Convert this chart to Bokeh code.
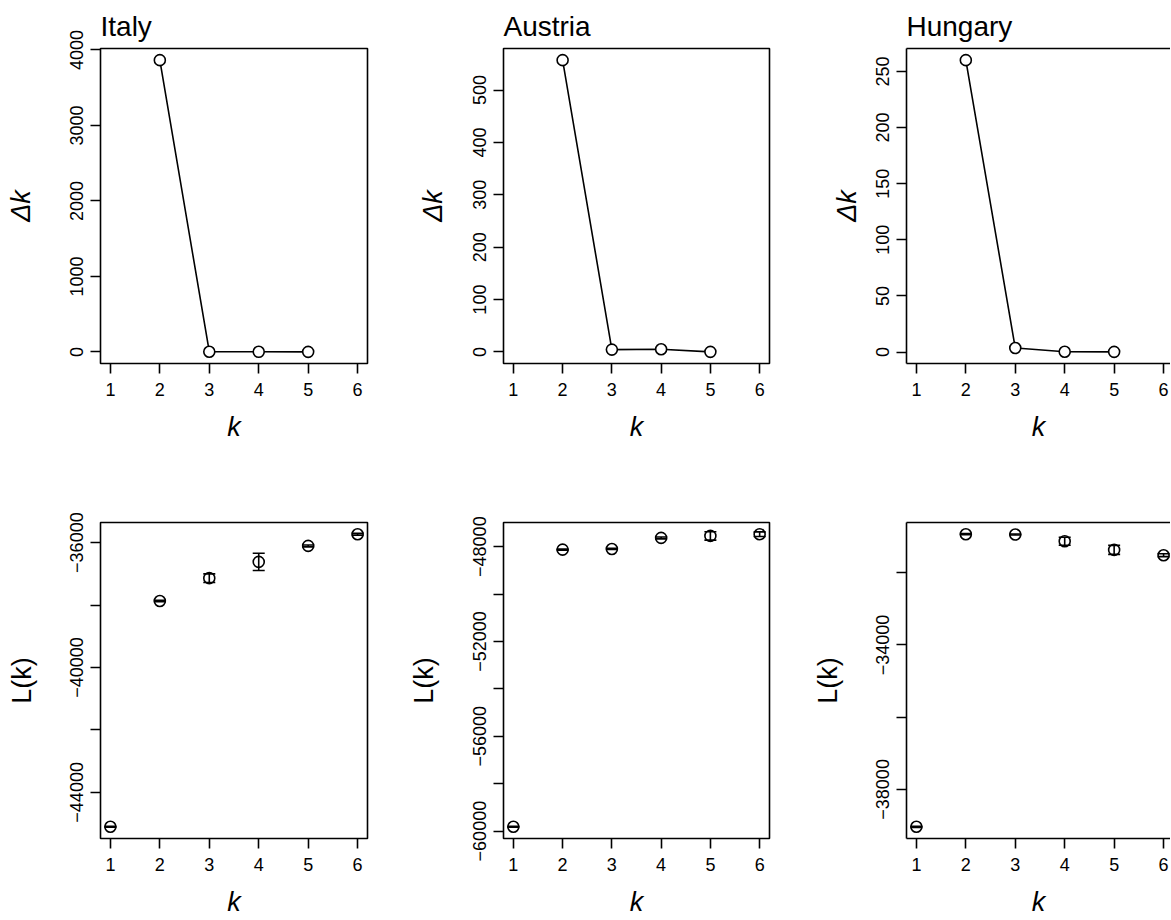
import math
from bokeh.plotting import figure
from bokeh.layouts import column, row
from bokeh.models import Range1d, FixedTicker, LinearAxis, Title
from bokeh.embed import file_html
from bokeh.resources import INLINE

# ---------------- data ----------------
countries = ["Italy", "Austria", "Hungary"]
k_all = [1, 2, 3, 4, 5, 6]
k_delta = [2, 3, 4, 5]

delta_italy = [3865, 1.8, 0.6, 0.4]
delta_austria = [557, 4.6, 5.2, 0.3]
delta_hungary = [260, 3.6, 0.3, 0.2]

L_italy_mean = [-45103, -37869, -37139, -36618, -36106, -35731]
L_italy_sd = [15, 20, 138, 278, 30, 30]
L_austria_mean = [-59818, -48127, -48098, -47632, -47548, -47476]
L_austria_sd = [20, 20, 25, 40, 176, 100]
L_hungary_mean = [-39036, -30936, -30945, -31130, -31370, -31518]
L_hungary_sd = [15, 15, 15, 110, 125, 40]

x_ticks = [1, 2, 3, 4, 5, 6]
delta_ticks_italy = [0, 1000, 2000, 3000, 4000]
delta_ticks_austria = [0, 100, 200, 300, 400, 500]
delta_ticks_hungary = [0, 50, 100, 150, 200, 250]
L_ticks_italy = [-44000, -42000, -40000, -38000, -36000]
L_labeled_italy = [-44000, -40000, -36000]
L_ticks_austria = [-60000, -58000, -56000, -54000, -52000, -50000, -48000]
L_labeled_austria = [-60000, -56000, -52000, -48000]
L_ticks_hungary = [-38000, -36000, -34000, -32000]
L_labeled_hungary = [-38000, -34000]

FONT = "Liberation Sans"
TICK_FS = "18px"
LAB_FS = "27px"
TITLE_FS = "28px"
LW = 1.6


def fmt(v):
    return str(int(v)).replace("-", "\u2212")


def padded(vals):
    lo, hi = min(vals), max(vals)
    d = (hi - lo) * 0.04
    return lo - d, hi + d


def base_fig(fw, fh, bl, br, bt, bb, xr, yr, yt, ylabeled, outline, ylabel,
             ylabel_style, ylabel_standoff, title=None):
    p = figure(frame_width=fw, frame_height=fh, min_border_left=bl,
               min_border_right=br, min_border_top=bt, min_border_bottom=bb,
               x_range=Range1d(*xr), y_range=Range1d(*yr),
               output_backend="svg", toolbar_location=None)
    p.grid.visible = False
    p.background_fill_color = "white"
    p.border_fill_color = "white"
    if title is not None:
        p.title = Title(text=title, align="left", text_font=FONT,
                        text_font_size=TITLE_FS, text_font_style="normal",
                        text_color="black", standoff=13, offset=0)
    if outline:
        p.outline_line_color = "black"
        p.outline_line_width = LW
    else:
        p.outline_line_color = None
    for ax in (p.xaxis[0], p.yaxis[0]):
        ax.major_tick_out = 10
        ax.major_tick_in = 0
        ax.major_tick_line_width = LW
        ax.major_tick_line_color = "black"
        ax.minor_tick_line_color = None
        ax.axis_line_color = None if outline else "black"
        ax.axis_line_width = LW
        ax.major_label_text_font = FONT
        ax.major_label_text_font_size = TICK_FS
        ax.major_label_text_color = "black"
        ax.axis_label_text_font = FONT
        ax.axis_label_text_font_size = LAB_FS
        ax.axis_label_text_color = "black"
    xa, ya = p.xaxis[0], p.yaxis[0]
    xa.ticker = FixedTicker(ticks=x_ticks)
    xa.major_label_overrides = {t: str(t) for t in x_ticks}
    xa.major_label_standoff = 9
    xa.axis_label = "k"
    xa.axis_label_text_font_style = "italic"
    xa.axis_label_standoff = 13
    ya.ticker = FixedTicker(ticks=yt)
    ya.major_label_overrides = {t: (fmt(t) if t in ylabeled else "") for t in yt}
    ya.major_label_orientation = "vertical"
    ya.major_label_standoff = 7
    ya.axis_label = ylabel
    ya.axis_label_text_font_style = ylabel_style
    ya.axis_label_standoff = ylabel_standoff
    if not outline:
        top = LinearAxis(ticker=FixedTicker(ticks=[]), axis_line_color="black",
                         axis_line_width=LW, major_tick_line_color=None,
                         minor_tick_line_color=None, major_label_text_font_size="0px")
        p.add_layout(top, "above")
    return p


# geometry per column: (border_left, frame_width, border_right, x_end)
cols = [(100, 267, 36, 6.2), (100, 266, 34, 6.2), (103, 264, 0, 6.14)]
delta_series = [delta_italy, delta_austria, delta_hungary]
delta_ticks = [delta_ticks_italy, delta_ticks_austria, delta_ticks_hungary]
L_means = [L_italy_mean, L_austria_mean, L_hungary_mean]
L_sds = [L_italy_sd, L_austria_sd, L_hungary_sd]
L_ticks = [L_ticks_italy, L_ticks_austria, L_ticks_hungary]
L_labeled = [L_labeled_italy, L_labeled_austria, L_labeled_hungary]
ylab_standoff_top = [32, 23, 12]
ylab_standoff_bot = [31, 32, 31]

top_figs, bot_figs = [], []
for i, name in enumerate(countries):
    bl, fw, br, xend = cols[i]
    outline = i < 2
    vals = delta_series[i]
    p = base_fig(fw, 315, bl, br, 48, 111, (0.8, xend), padded(vals),
                 delta_ticks[i], delta_ticks[i], outline, "\u0394k", "italic",
                 ylab_standoff_top[i], title=name)
    p.line(k_delta, vals, line_color="black", line_width=LW)
    p.scatter(k_delta, vals, marker="circle", size=11, fill_color="white",
              line_color="black", line_width=LW)
    top_figs.append(p)

    m, s = L_means[i], L_sds[i]
    lo = [a - b for a, b in zip(m, s)]
    hi = [a + b for a, b in zip(m, s)]
    q = base_fig(fw, 316, bl, br, 48, 81, (0.8, xend), padded(m),
                 L_ticks[i], L_labeled[i], outline, "L(k)", "normal",
                 ylab_standoff_bot[i])
    q.segment(k_all, lo, k_all, hi, line_color="black", line_width=LW)
    q.scatter(k_all, lo, marker="dash", size=12, line_color="black", line_width=LW)
    q.scatter(k_all, hi, marker="dash", size=12, line_color="black", line_width=LW)
    q.scatter(k_all, m, marker="circle", size=11, fill_color=None,
              line_color="black", line_width=LW)
    bot_figs.append(q)

layout = column(row(*top_figs), row(*bot_figs))
open("out.html", "w").write(file_html(layout, INLINE))
